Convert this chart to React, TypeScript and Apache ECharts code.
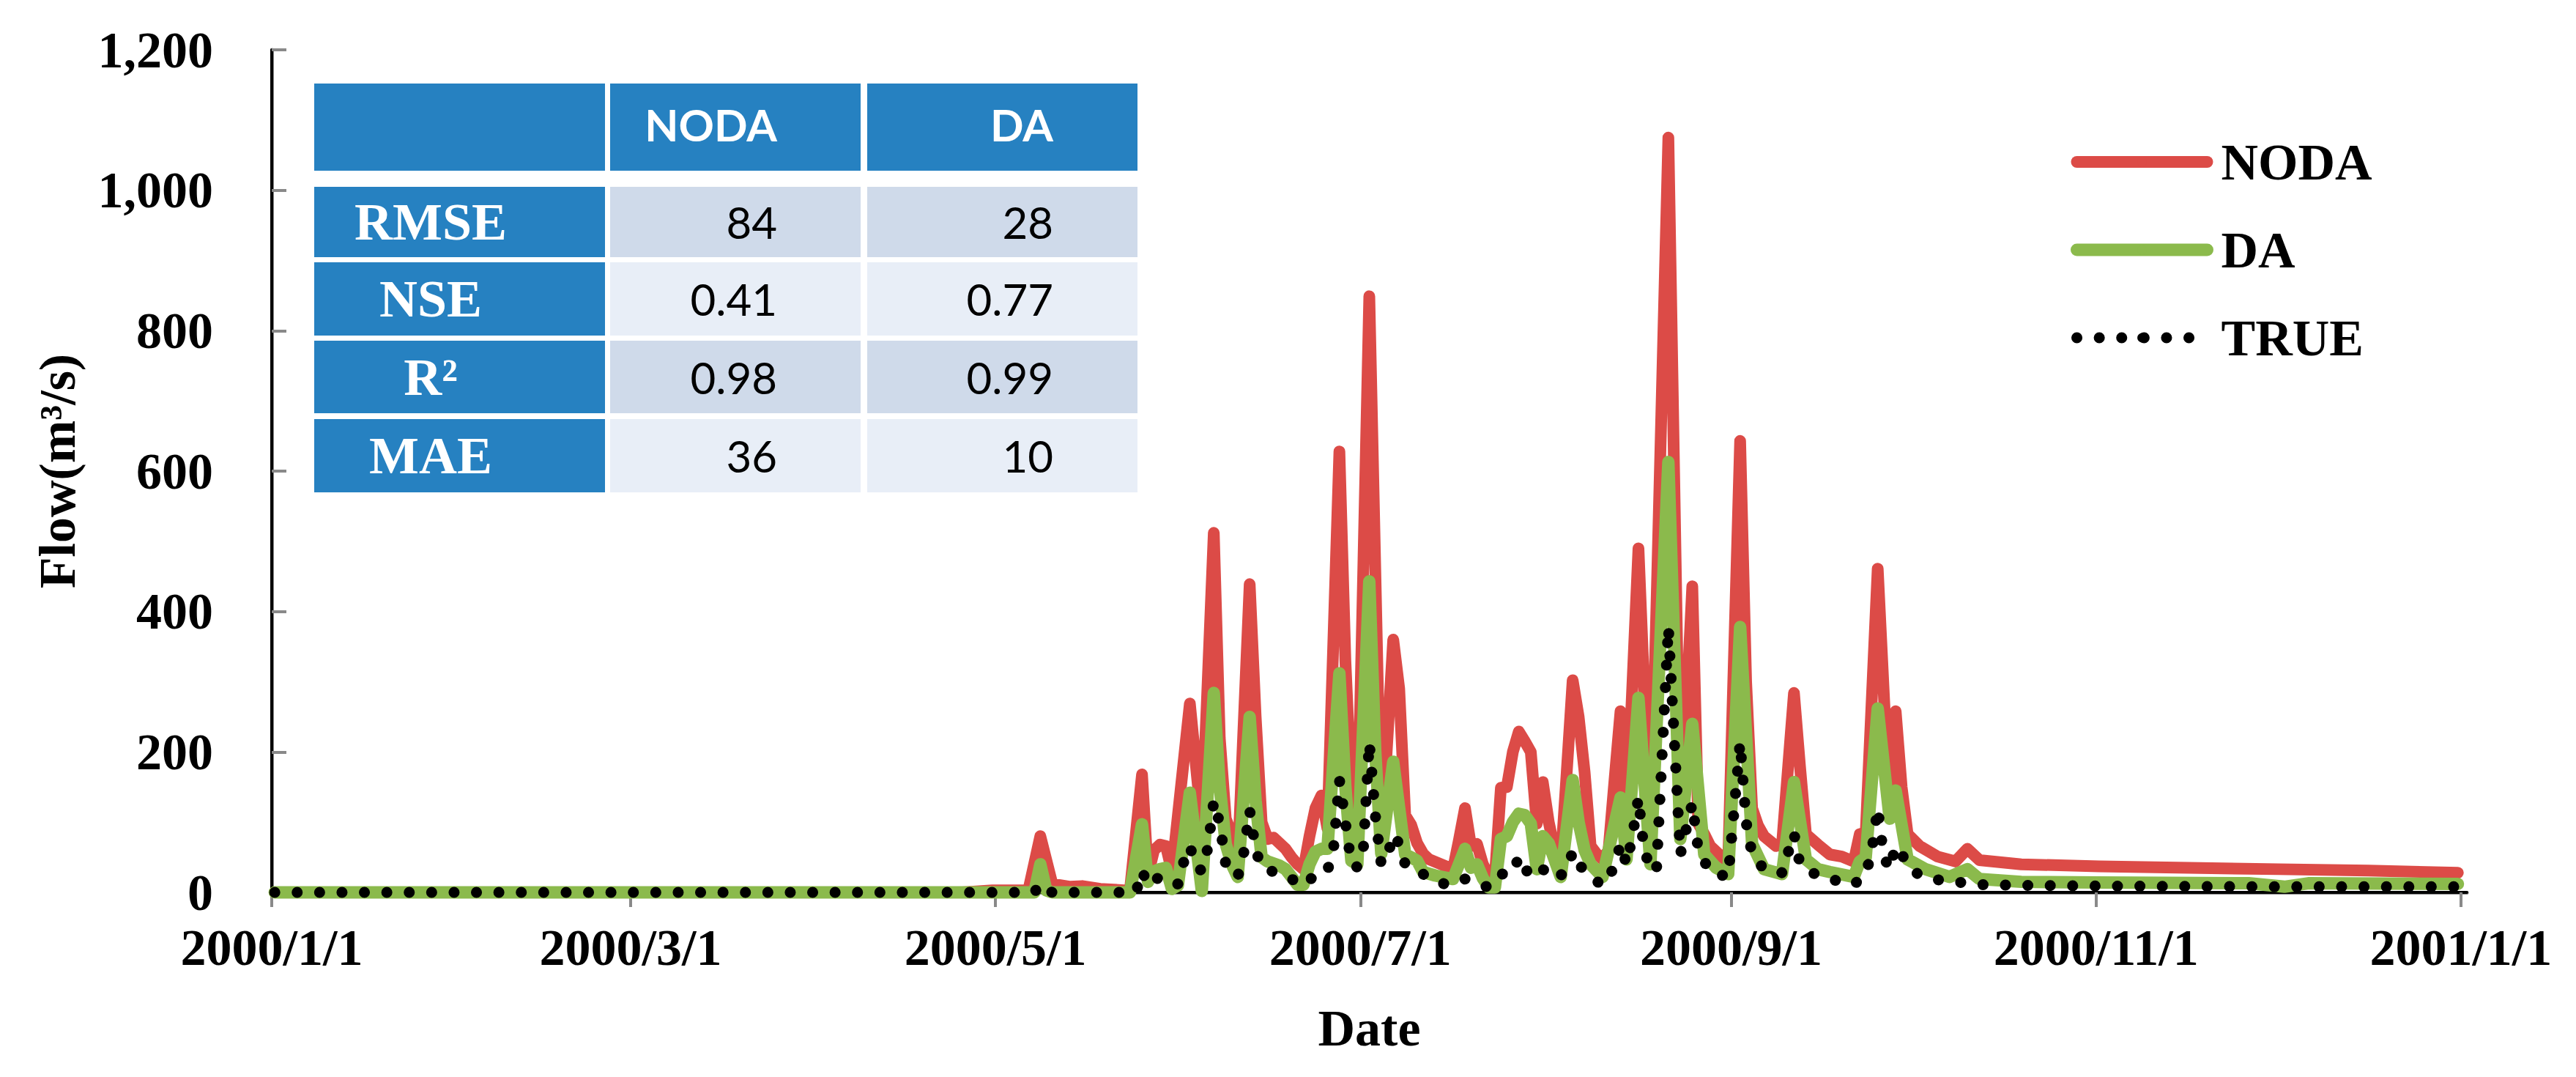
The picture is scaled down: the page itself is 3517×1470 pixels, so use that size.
import React, { useEffect, useRef } from "react";
import * as echarts from "echarts";

// ---------- data ----------
const xTickLabels = ["2000/1/1", "2000/3/1", "2000/5/1", "2000/7/1", "2000/9/1", "2000/11/1", "2001/1/1"];
const seriesNames = ["NODA", "DA", "TRUE"];

const nodaFlow: [string, number][] = [
  ["2000/1/1", 0], ["2000/4/25", 0], ["2000/4/30", 3], ["2000/5/6", 3], ["2000/5/8", 80], ["2000/5/10", 12],
  ["2000/5/13", 8], ["2000/5/15", 9], ["2000/5/18", 5], ["2000/5/22", 3], ["2000/5/23", 4], ["2000/5/25", 168],
  ["2000/5/26", 25], ["2000/5/27", 60], ["2000/5/28", 68], ["2000/5/29", 66], ["2000/5/30", 30], ["2000/6/2", 269],
  ["2000/6/4", 95], ["2000/6/6", 512], ["2000/6/7", 220], ["2000/6/8", 105], ["2000/6/9", 83], ["2000/6/10", 40],
  ["2000/6/12", 439], ["2000/6/13", 250], ["2000/6/14", 100], ["2000/6/15", 76], ["2000/6/16", 78], ["2000/6/18", 62],
  ["2000/6/19", 50], ["2000/6/20", 40], ["2000/6/21", 33], ["2000/6/22", 80], ["2000/6/23", 120], ["2000/6/24", 138],
  ["2000/6/25", 91], ["2000/6/27", 628], ["2000/6/28", 330], ["2000/6/29", 140], ["2000/6/30", 76], ["2000/7/2", 849],
  ["2000/7/4", 69], ["2000/7/6", 360], ["2000/7/7", 290], ["2000/7/8", 110], ["2000/7/9", 96], ["2000/7/10", 70],
  ["2000/7/11", 55], ["2000/7/12", 47], ["2000/7/14", 40], ["2000/7/16", 33], ["2000/7/17", 75], ["2000/7/18", 120],
  ["2000/7/19", 66], ["2000/7/20", 69], ["2000/7/21", 40], ["2000/7/22", 23], ["2000/7/23", 23], ["2000/7/24", 149],
  ["2000/7/25", 150], ["2000/7/26", 200], ["2000/7/27", 229], ["2000/7/28", 215], ["2000/7/29", 200], ["2000/7/30", 98],
  ["2000/7/31", 157], ["2000/8/1", 100], ["2000/8/2", 60], ["2000/8/3", 40], ["2000/8/4", 170], ["2000/8/5", 302],
  ["2000/8/6", 250], ["2000/8/7", 171], ["2000/8/8", 66], ["2000/8/9", 55], ["2000/8/10", 47], ["2000/8/11", 60],
  ["2000/8/12", 160], ["2000/8/13", 258], ["2000/8/14", 105], ["2000/8/16", 490], ["2000/8/18", 69], ["2000/8/21", 1075],
  ["2000/8/23", 83], ["2000/8/25", 436], ["2000/8/26", 98], ["2000/8/27", 83], ["2000/8/28", 66], ["2000/8/30", 50],
  ["2000/8/31", 44], ["2000/9/2", 643], ["2000/9/3", 300], ["2000/9/4", 120], ["2000/9/5", 95], ["2000/9/6", 80],
  ["2000/9/8", 66], ["2000/9/9", 68], ["2000/9/11", 284], ["2000/9/12", 180], ["2000/9/13", 83], ["2000/9/15", 68],
  ["2000/9/17", 54], ["2000/9/19", 51], ["2000/9/21", 44], ["2000/9/22", 83], ["2000/9/23", 85], ["2000/9/25", 461],
  ["2000/9/27", 112], ["2000/9/28", 258], ["2000/9/29", 150], ["2000/9/30", 83], ["2000/10/2", 66], ["2000/10/5", 51],
  ["2000/10/8", 44], ["2000/10/10", 62], ["2000/10/12", 46], ["2000/10/19", 40], ["2000/11/1", 37], ["2000/11/16", 35],
  ["2000/12/1", 33], ["2000/12/16", 31], ["2000/12/31", 28],
];

const daFlow: [string, number][] = [
  ["2000/1/1", 0], ["2000/5/7", 0], ["2000/5/8", 40], ["2000/5/9", 3], ["2000/5/10", 0], ["2000/5/23", 0],
  ["2000/5/25", 97], ["2000/5/26", 15], ["2000/5/27", 30], ["2000/5/28", 33], ["2000/5/29", 35], ["2000/5/30", 5],
  ["2000/5/31", 10], ["2000/6/2", 142], ["2000/6/4", 2], ["2000/6/6", 284], ["2000/6/7", 150], ["2000/6/8", 69],
  ["2000/6/9", 40], ["2000/6/10", 22], ["2000/6/12", 250], ["2000/6/13", 130], ["2000/6/14", 50], ["2000/6/15", 44],
  ["2000/6/17", 38], ["2000/6/18", 33], ["2000/6/20", 11], ["2000/6/21", 11], ["2000/6/22", 40], ["2000/6/23", 58],
  ["2000/6/24", 62], ["2000/6/25", 62], ["2000/6/27", 312], ["2000/6/28", 150], ["2000/6/29", 45], ["2000/6/30", 40],
  ["2000/7/2", 443], ["2000/7/3", 200], ["2000/7/4", 55], ["2000/7/6", 186], ["2000/7/7", 120], ["2000/7/8", 54],
  ["2000/7/9", 50], ["2000/7/10", 45], ["2000/7/11", 29], ["2000/7/13", 24], ["2000/7/16", 19], ["2000/7/18", 62],
  ["2000/7/19", 35], ["2000/7/20", 40], ["2000/7/21", 20], ["2000/7/22", 7], ["2000/7/23", 7], ["2000/7/24", 76],
  ["2000/7/25", 80], ["2000/7/26", 100], ["2000/7/27", 112], ["2000/7/28", 110], ["2000/7/29", 98], ["2000/7/30", 33],
  ["2000/7/31", 80], ["2000/8/1", 70], ["2000/8/3", 22], ["2000/8/5", 160], ["2000/8/6", 100], ["2000/8/7", 60],
  ["2000/8/8", 40], ["2000/8/10", 22], ["2000/8/13", 135], ["2000/8/14", 47], ["2000/8/16", 277], ["2000/8/18", 40],
  ["2000/8/21", 613], ["2000/8/23", 76], ["2000/8/25", 240], ["2000/8/27", 54], ["2000/8/29", 35], ["2000/8/31", 26],
  ["2000/9/2", 378], ["2000/9/4", 69], ["2000/9/6", 33], ["2000/9/9", 26], ["2000/9/11", 157], ["2000/9/13", 47],
  ["2000/9/15", 33], ["2000/9/17", 29], ["2000/9/21", 22], ["2000/9/22", 44], ["2000/9/23", 50], ["2000/9/25", 262],
  ["2000/9/27", 105], ["2000/9/28", 145], ["2000/9/30", 47], ["2000/10/3", 33], ["2000/10/7", 22], ["2000/10/10", 33],
  ["2000/10/12", 19], ["2000/10/19", 15], ["2000/11/1", 14], ["2000/11/26", 13], ["2000/12/2", 8], ["2000/12/6", 13],
  ["2000/12/31", 12],
];

const trueFlow: [string, number][] = [
  ["2000/1/1", 0], ["2000/5/7", 0], ["2000/5/8", 12], ["2000/5/9", 3], ["2000/5/10", 0], ["2000/5/24", 0],
  ["2000/5/25", 31], ["2000/5/26", 10], ["2000/5/27", 17], ["2000/5/28", 22], ["2000/5/29", 20], ["2000/5/30", 14],
  ["2000/5/31", 12], ["2000/6/1", 44], ["2000/6/2", 66], ["2000/6/3", 36], ["2000/6/4", 31], ["2000/6/5", 63],
  ["2000/6/6", 130], ["2000/6/7", 98], ["2000/6/8", 40], ["2000/6/9", 30], ["2000/6/10", 22], ["2000/6/11", 56],
  ["2000/6/12", 117], ["2000/6/13", 60], ["2000/6/14", 36], ["2000/6/15", 33], ["2000/6/17", 25], ["2000/6/19", 19],
  ["2000/6/21", 10], ["2000/6/23", 25], ["2000/6/24", 31], ["2000/6/25", 31], ["2000/6/26", 60], ["2000/6/27", 160],
  ["2000/6/28", 100], ["2000/6/29", 40], ["2000/6/30", 36], ["2000/7/1", 60], ["2000/7/2", 214], ["2000/7/3", 110],
  ["2000/7/4", 40], ["2000/7/5", 50], ["2000/7/6", 83], ["2000/7/7", 69], ["2000/7/8", 40], ["2000/7/10", 30],
  ["2000/7/11", 26], ["2000/7/13", 16], ["2000/7/15", 11], ["2000/7/17", 15], ["2000/7/18", 19], ["2000/7/19", 16],
  ["2000/7/21", 10], ["2000/7/22", 7], ["2000/7/24", 26], ["2000/7/26", 27], ["2000/7/27", 51], ["2000/7/28", 35],
  ["2000/7/29", 22], ["2000/7/31", 33], ["2000/8/2", 19], ["2000/8/4", 30], ["2000/8/5", 58], ["2000/8/6", 40],
  ["2000/8/8", 22], ["2000/8/10", 10], ["2000/8/12", 36], ["2000/8/13", 69], ["2000/8/14", 40], ["2000/8/15", 80],
  ["2000/8/16", 135], ["2000/8/17", 54], ["2000/8/19", 29], ["2000/8/21", 378], ["2000/8/23", 54], ["2000/8/25", 127],
  ["2000/8/26", 60], ["2000/8/28", 29], ["2000/8/31", 22], ["2000/9/2", 214], ["2000/9/3", 100], ["2000/9/4", 54],
  ["2000/9/6", 33], ["2000/9/9", 28], ["2000/9/11", 84], ["2000/9/12", 40], ["2000/9/14", 28], ["2000/9/17", 19],
  ["2000/9/21", 11], ["2000/9/23", 26], ["2000/9/24", 58], ["2000/9/25", 120], ["2000/9/26", 51], ["2000/9/27", 33],
  ["2000/9/28", 66], ["2000/9/29", 54], ["2000/10/1", 29], ["2000/10/4", 19], ["2000/10/8", 15], ["2000/10/12", 11],
  ["2000/10/19", 10], ["2000/11/1", 9], ["2000/12/1", 8], ["2000/12/31", 8],
];

const tableHeaders = ["", "NODA", "DA"];
const metricNames = ["RMSE", "NSE", "R²", "MAE"];
const nodaMetrics = ["84", "0.41", "0.98", "36"];
const daMetrics = ["28", "0.77", "0.99", "10"];

// ---------- helpers ----------
const ORIGIN = Date.UTC(2000, 0, 1);
function dayIndex(s: string): number {
  const [y, m, d] = s.split("/").map(Number);
  return (Date.UTC(y, m - 1, d) - ORIGIN) / 86400000;
}
// daily values are drawn at the middle of their day
const toPoints = (rows: [string, number][]) => rows.map(([d, v]) => [dayIndex(d) + 0.5, v]);
const xTickValues = xTickLabels.map(dayIndex);

const SERIF = "'Times New Roman', 'Liberation Serif', serif";
const SANS = "Lato, 'Noto Sans', sans-serif";
const AXIS_GRAY = "#898989";

function buildTable(): any[] {
  const colX = [429, 833, 1184];
  const colW = [397, 342, 369];
  const headY = 114, headH = 119;
  const rowY = [255, 358, 465, 572];
  const rowH = [96, 100, 99, 100];
  const blue = "#2681C1";
  const light = ["#CFDAEA", "#E8EEF7"];
  const valueRight = [1061, 1438];
  const els: any[] = [];
  colX.forEach((x, c) => {
    els.push({ type: "rect", shape: { x, y: headY, width: colW[c], height: headH }, style: { fill: blue } });
    if (tableHeaders[c]) {
      els.push({
        type: "text", x: valueRight[c - 1], y: headY + headH / 2 - 4,
        style: { text: tableHeaders[c], fill: "#fff", font: `bold 60px ${SANS}`, align: "right", verticalAlign: "middle" },
      });
    }
  });
  metricNames.forEach((name, r) => {
    const y = rowY[r], h = rowH[r];
    els.push({ type: "rect", shape: { x: colX[0], y, width: colW[0], height: h }, style: { fill: blue } });
    els.push({ type: "rect", shape: { x: colX[1], y, width: colW[1], height: h }, style: { fill: light[r % 2] } });
    els.push({ type: "rect", shape: { x: colX[2], y, width: colW[2], height: h }, style: { fill: light[r % 2] } });
    els.push({
      type: "text", x: 588, y: y + h / 2,
      style: { text: name, fill: "#fff", font: `bold 72px ${SERIF}`, align: "center", verticalAlign: "middle" },
    });
    [nodaMetrics[r], daMetrics[r]].forEach((v, k) => {
      els.push({
        type: "text", x: valueRight[k], y: y + h / 2,
        style: { text: v, fill: "#000", font: `60px ${SANS}`, align: "right", verticalAlign: "middle" },
      });
    });
  });
  return els;
}

export default function App() {
  const ref = useRef<HTMLDivElement>(null);
  useEffect(() => {
    if (!ref.current) return;
    const chart = echarts.init(ref.current, undefined, { renderer: "svg" });
    const option: any = {
      animation: false,
      backgroundColor: "#fff",
      grid: { left: 371, top: 68, right: 149, bottom: 252, containLabel: false },
      legend: {
        data: seriesNames,
        orient: "vertical",
        left: 2827,
        top: 186,
        padding: 0,
        itemWidth: 178,
        itemHeight: 16,
        itemGap: 50,
        lineStyle: { width: "inherit", type: "inherit", cap: "round" },
        textStyle: { fontFamily: SERIF, fontWeight: "bold", fontSize: 70, lineHeight: 70, color: "#000", padding: [0, 0, 0, 14] },
      },
      xAxis: [
        {
          type: "value", min: 0, max: 367, position: "bottom",
          name: "Date", nameLocation: "middle", nameGap: 150,
          nameTextStyle: { fontFamily: SERIF, fontWeight: "bold", fontSize: 70, color: "#000", lineHeight: 70 },
          axisLine: { show: true, lineStyle: { color: AXIS_GRAY, width: 5 } },
          axisTick: { show: true, inside: false, length: 20, customValues: xTickValues, lineStyle: { color: AXIS_GRAY, width: 4 } },
          axisLabel: {
            customValues: xTickValues, margin: 40,
            formatter: (v: number) => xTickLabels[xTickValues.indexOf(v)] ?? "",
            fontFamily: SERIF, fontWeight: "bold", fontSize: 70, color: "#000", lineHeight: 70,
          },
          splitLine: { show: false },
        },
        {
          type: "value", min: 0, max: 367, position: "top",
          axisLine: { show: true, lineStyle: { color: "#000", width: 4 } },
          axisTick: { show: false }, axisLabel: { show: false }, splitLine: { show: false },
        },
      ],
      yAxis: [
        {
          type: "value", min: 0, max: 1200, interval: 200,
          name: "Flow(m³/s)", nameLocation: "middle", nameGap: 258, nameRotate: 90,
          nameTextStyle: { fontFamily: SERIF, fontWeight: "bold", fontSize: 70, color: "#000", lineHeight: 70 },
          axisLine: { show: true, lineStyle: { color: AXIS_GRAY, width: 5 } },
          axisTick: { show: true, inside: true, length: 20, lineStyle: { color: AXIS_GRAY, width: 4 } },
          axisLabel: {
            margin: 80,
            formatter: (v: number) => v.toLocaleString("en-US"),
            fontFamily: SERIF, fontWeight: "bold", fontSize: 70, color: "#000",
          },
          splitLine: { show: false },
        },
        {
          type: "value", min: 0, max: 1200, position: "right",
          axisLine: { show: true, lineStyle: { color: "#000", width: 4 } },
          axisTick: { show: false }, axisLabel: { show: false }, splitLine: { show: false },
        },
      ],
      series: [
        {
          name: "NODA", type: "line", data: toPoints(nodaFlow), symbol: "none", clip: false,
          lineStyle: { color: "#DC4B47", width: 16, cap: "round", join: "round" }, itemStyle: { color: "#DC4B47" },
        },
        {
          name: "DA", type: "line", data: toPoints(daFlow), symbol: "none", clip: false,
          lineStyle: { color: "#8BBA4C", width: 17, cap: "round", join: "round" }, itemStyle: { color: "#8BBA4C" },
        },
        {
          name: "TRUE", type: "line", data: toPoints(trueFlow), symbol: "none", clip: false,
          lineStyle: { color: "#000", width: 15, type: [0.1, 30.5], cap: "round", join: "round" }, itemStyle: { color: "#000" },
        },
      ],
      graphic: buildTable(),
    };
    chart.setOption(option);
    return () => chart.dispose();
  }, []);
  return <div ref={ref} style={{ position: "absolute", left: 0, top: 0, width: 3517, height: 1470 }} />;
}
